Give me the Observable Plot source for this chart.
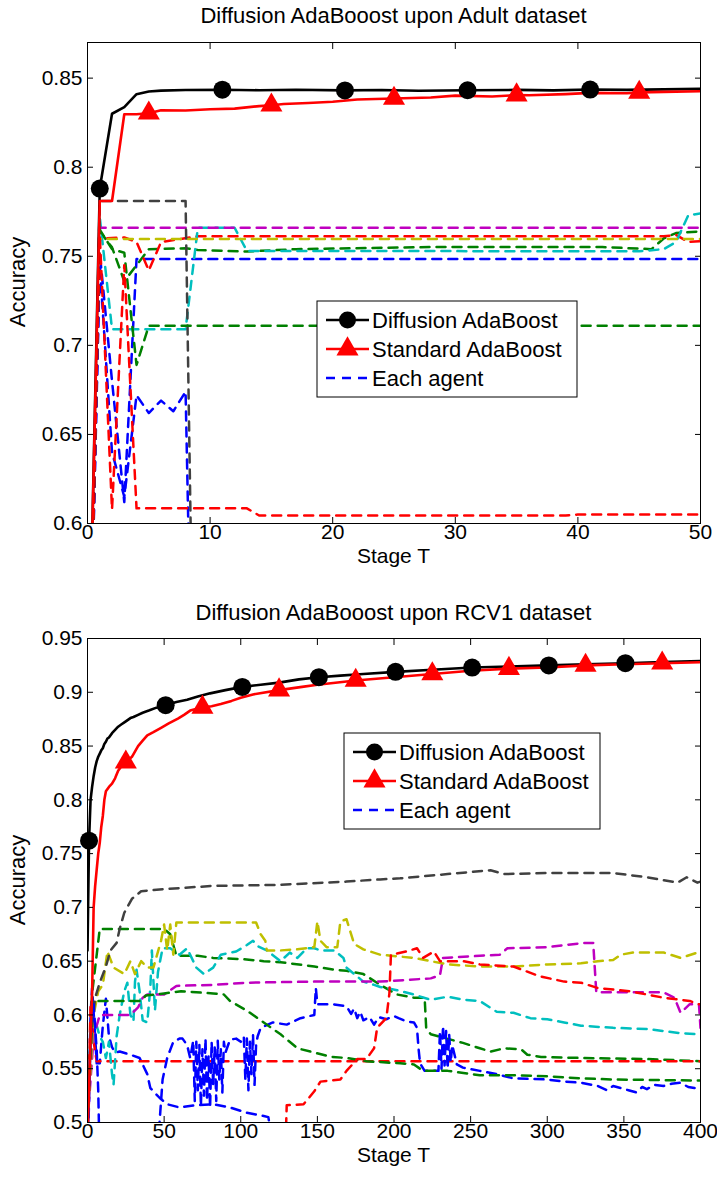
<!DOCTYPE html>
<html>
<head>
<meta charset="utf-8">
<script src="https://cdn.jsdelivr.net/npm/d3@7"></script>
<script src="https://cdn.jsdelivr.net/npm/@observablehq/plot@0.6"></script>
<style>
  body { margin: 0; background: #fff; }
  #fig { position: relative; width: 717px; height: 1178px; background: #fff; }
  #fig svg { position: absolute; left: 0; display: block; }
</style>
</head>
<body>
<div id="fig"></div>
<script>
// ---------- Shared ----------
const FONT = "'Liberation Sans', Arial, Helvetica, sans-serif";
// MATLAB line colour order, cycling over the ten agents
const agentColors = ["#0000ff", "#008000", "#ff0000", "#00bfbf", "#bf00bf",
                     "#bfbf00", "#404040", "#0000ff", "#008000", "#ff0000"];
const legendLabels = ["Diffusion AdaBoost", "Standard AdaBoost", "Each agent"];

// ---------- Adult dataset: [stage T, accuracy] ----------
const adultXTicks = [0, 10, 20, 30, 40, 50];
const adultYTicks = [0.6, 0.65, 0.7, 0.75, 0.8, 0.85];

const adultDiffusion = [[0,0.475],[1,0.788],[2,0.830],[3,0.8337],[4,0.841],[5,0.8425],[6,0.8430],[8,0.8433],
  [11,0.8435],[14,0.8432],[17,0.8435],[21,0.8431],[24,0.8433],[27,0.8429],[31,0.8432],[35,0.8434],
  [38,0.8431],[41,0.8436],[44,0.8434],[47,0.8437],[50,0.8440]];
const adultStandard = [[0,0.475],[1,0.781],[2,0.781],[3,0.8297],[4,0.8297],[5,0.8303],[6,0.8320],[8,0.8318],
  [10,0.8325],[12,0.8329],[14,0.8343],[15,0.8348],[16,0.8355],[18,0.8360],[20,0.8367],[22,0.8380],
  [25,0.8386],[28,0.8391],[30,0.8402],[33,0.8397],[35,0.8405],[36,0.8404],[39,0.8410],[41,0.8417],
  [44,0.8415],[45,0.8420],[47,0.8423],[50,0.8426]];
const adultDiffMarkT = [1, 11, 21, 31, 41];
const adultStdMarkT = [5, 15, 25, 35, 45];

const adultAgentBlue1 = [[0,0.45],[1,0.752],[2,0.680],[3,0.612],[4,0.7485],[50,0.7485]];
const adultAgentGreen1 = [[0,0.45],[1,0.764],[2,0.755],[3,0.736],[4,0.745],[5,0.754],[8,0.7545],[9,0.7535],
  [13,0.7527],[17,0.754],[28,0.7552],[42,0.7552],[46,0.754],[47,0.760],[48,0.763],[50,0.764]];
const adultAgentRed1 = [[0,0.45],[1,0.760],[3,0.7606],[4,0.758],[5,0.742],[6,0.758],[9,0.7612],[47,0.7612],
  [48,0.762],[49,0.758],[50,0.7585]];
const adultAgentCyan = [[0,0.45],[1,0.772],[2,0.709],[8,0.709],[9,0.766],[12,0.766],[13,0.753],[45,0.7528],
  [47,0.754],[48,0.758],[49,0.773],[50,0.774]];
const adultAgentMagenta = [[0,0.45],[1,0.766],[50,0.766]];
const adultAgentYellow = [[0,0.45],[1,0.7597],[50,0.7597]];
const adultAgentGray = [[0,0.45],[1,0.781],[8,0.781],[9,0.34],[50,0.34]];
const adultAgentBlue2 = [[0,0.45],[1,0.745],[2,0.640],[3,0.615],[4,0.672],[5,0.662],[6,0.669],[7,0.663],
  [8,0.674],[9,0.34],[50,0.34]];
const adultAgentGreen2 = [[0,0.45],[1,0.765],[2,0.754],[3,0.752],[4,0.689],[5,0.711],[50,0.711]];
const adultAgentRed2 = [[0,0.45],[1,0.762],[2,0.608],[3,0.745],[4,0.6085],[13,0.6085],[14,0.6045],
  [39,0.6045],[40,0.605],[50,0.605]];

// ---------- RCV1 dataset: [stage T, accuracy] ----------
const rcvXTicks = [0, 50, 100, 150, 200, 250, 300, 350, 400];
const rcvYTicks = [0.5, 0.55, 0.6, 0.65, 0.7, 0.75, 0.8, 0.85, 0.9, 0.95];

const rcvDiffusion = [[0,0.66],[1,0.762],[2,0.800],[3,0.812],[4,0.822],[5,0.830],[6,0.836],[7,0.840],
  [8,0.843],[9,0.846],[10,0.848],[11,0.852],[12,0.854],[13,0.857],[14,0.858],[16,0.862],[18,0.865],
  [20,0.868],[22,0.870],[25,0.873],[28,0.876],[30,0.877],[33,0.879],[36,0.881],[40,0.883],[45,0.8857],
  [51,0.888],[58,0.891],[65,0.893],[72,0.896],[80,0.899],[90,0.902],[101,0.905],[113,0.907],[125,0.909],
  [138,0.912],[151,0.914],[165,0.9155],[180,0.917],[201,0.919],[225,0.921],[251,0.923],[275,0.924],
  [301,0.925],[325,0.926],[351,0.927],[375,0.928],[400,0.929]];
const rcvStandard = [[0,0.49],[1,0.53],[2,0.58],[3,0.62],[4,0.70],[5,0.72],[6,0.735],[7,0.75],[8,0.76],
  [9,0.775],[10,0.785],[11,0.80],[12,0.808],[14,0.812],[16,0.815],[18,0.82],[20,0.827],[22,0.831],
  [25,0.835],[29,0.840],[33,0.850],[36,0.855],[39,0.860],[43,0.863],[48,0.867],[53,0.871],[59,0.8755],
  [63,0.879],[67,0.883],[75,0.886],[81,0.887],[87,0.889],[94,0.892],[100,0.895],[108,0.898],[125,0.902],
  [140,0.905],[150,0.907],[175,0.911],[200,0.914],[225,0.917],[250,0.920],[275,0.922],[300,0.923],
  [325,0.925],[350,0.926],[375,0.927],[400,0.928]];
const rcvDiffMarkT = [1, 51, 101, 151, 201, 251, 301, 351];
const rcvStdMarkT = [25, 75, 125, 175, 225, 275, 325, 375];

const rcvAgentBlue1 = [[0,0.47],[2,0.60],[3,0.625],[5,0.58],[6,0.555],[8,0.555],[10,0.59],[12,0.615],
  [14,0.58],[16,0.57],[18,0.565],[21,0.566],[28,0.563],[34,0.56],[39,0.545],[41,0.532],[47,0.523],
  [52,0.517],[60,0.514],[70,0.516],[82,0.517],[93,0.514],[104,0.509],[115,0.506],[118,0.505],
  [122,0.47],[400,0.47]];
const rcvAgentGreen1 = [[0,0.49],[3,0.62],[8,0.68],[50,0.68],[54,0.675],[58,0.655],[72,0.655],[82,0.653],
  [100,0.652],[115,0.65],[126,0.649],[148,0.645],[161,0.642],[169,0.641],[180,0.638],[191,0.628],
  [202,0.619],[213,0.616],[220,0.616],[221,0.588],[224,0.582],[245,0.574],[256,0.569],[263,0.566],
  [272,0.569],[283,0.568],[287,0.563],[296,0.561],[322,0.56],[365,0.559],[400,0.557]];
const rcvAgentRed1 = [[0,0.48],[2,0.61],[4,0.575],[6,0.557],[400,0.557]];
const rcvAgentCyan = [[0,0.49],[2,0.585],[4,0.575],[6,0.59],[8,0.58],[10,0.575],[12,0.56],[14,0.575],
  [16,0.545],[17,0.535],[19,0.58],[21,0.60],[24,0.622],[26,0.63],[28,0.60],[30,0.594],[31,0.631],
  [32,0.642],[34,0.622],[36,0.595],[39,0.593],[41,0.625],[42,0.66],[44,0.604],[46,0.64],[49,0.662],
  [54,0.662],[60,0.656],[65,0.662],[71,0.644],[76,0.638],[82,0.644],[87,0.656],[97,0.659],[104,0.665],
  [108,0.669],[111,0.664],[117,0.66],[126,0.65],[132,0.658],[137,0.653],[143,0.662],[148,0.662],
  [152,0.66],[161,0.66],[167,0.653],[169,0.644],[180,0.631],[187,0.628],[191,0.626],[202,0.623],
  [213,0.619],[224,0.614],[235,0.617],[246,0.614],[256,0.613],[267,0.603],[278,0.602],[289,0.597],
  [300,0.596],[311,0.593],[322,0.59],[343,0.588],[365,0.587],[387,0.583],[400,0.582]];
const rcvAgentMagenta = [[0,0.50],[4,0.58],[8,0.60],[28,0.60],[33,0.607],[36,0.616],[39,0.619],[50,0.619],
  [58,0.627],[82,0.628],[104,0.63],[148,0.631],[191,0.631],[224,0.634],[230,0.637],[232,0.653],
  [256,0.655],[269,0.656],[274,0.662],[300,0.663],[324,0.667],[330,0.667],[332,0.621],[339,0.621],
  [376,0.621],[383,0.616],[387,0.602],[393,0.61],[399,0.61],[400,0.588]];
const rcvAgentYellow = [[0,0.50],[4,0.60],[7,0.622],[10,0.628],[13,0.659],[17,0.644],[24,0.638],[28,0.65],
  [31,0.638],[35,0.65],[39,0.644],[43,0.644],[48,0.669],[50,0.684],[52,0.66],[54,0.684],[56,0.656],
  [58,0.686],[110,0.686],[113,0.675],[116,0.669],[117,0.66],[126,0.66],[137,0.661],[148,0.663],
  [150,0.687],[152,0.669],[156,0.663],[163,0.663],[165,0.687],[169,0.689],[174,0.666],[180,0.661],
  [191,0.656],[213,0.653],[224,0.65],[235,0.647],[256,0.645],[278,0.645],[300,0.647],[322,0.648],
  [333,0.65],[343,0.651],[348,0.656],[356,0.658],[376,0.658],[387,0.653],[398,0.658],[400,0.658]];
const rcvAgentGray = [[0,0.50],[3,0.59],[5,0.616],[8,0.63],[12,0.645],[15,0.66],[19,0.667],[21,0.68],
  [24,0.695],[29,0.708],[35,0.715],[50,0.717],[82,0.72],[126,0.721],[169,0.724],[191,0.726],[204,0.727],
  [235,0.731],[263,0.7345],[272,0.731],[300,0.732],[322,0.732],[343,0.732],[365,0.728],[385,0.723],
  [391,0.728],[398,0.723],[400,0.724]];
const rcvAgentBlue2 = [[0,0.46],[2,0.58],[4,0.61],[6,0.567],[7,0.53],[8,0.46],[46,0.46],[47,0.50],
  [49,0.54],[52,0.56],[56,0.575],[60,0.578],[62,0.578],[65,0.572],[67,0.56],[69,0.576],[70,0.52],
  [71,0.575],[72,0.53],[73,0.572],[74,0.515],[75,0.568],[76,0.525],[77,0.578],[78,0.52],[79,0.562],
  [80,0.514],[81,0.575],[82,0.535],[83,0.57],[84,0.52],[85,0.576],[86,0.54],[87,0.568],[88,0.528],
  [89,0.575],[90,0.565],[93,0.577],[97,0.578],[100,0.575],[102,0.58],[103,0.54],[104,0.578],[105,0.53],
  [106,0.575],[107,0.545],[108,0.582],[109,0.535],[110,0.572],[111,0.58],[113,0.588],[121,0.593],
  [130,0.591],[139,0.597],[148,0.60],[149,0.625],[150,0.61],[160,0.61],[169,0.608],[172,0.601],
  [174,0.606],[176,0.597],[178,0.603],[180,0.595],[184,0.598],[187,0.591],[190,0.598],[195,0.596],
  [200,0.599],[203,0.597],[208,0.594],[213,0.593],[215,0.588],[216,0.569],[217,0.555],[220,0.548],
  [229,0.548],[230,0.585],[231,0.55],[232,0.59],[233,0.553],[234,0.585],[235,0.55],[236,0.582],
  [237,0.556],[238,0.572],[241,0.554],[245,0.551],[256,0.548],[267,0.545],[278,0.541],[300,0.54],
  [311,0.538],[322,0.537],[333,0.534],[339,0.53],[343,0.534],[348,0.532],[353,0.53],[358,0.528],
  [362,0.533],[365,0.531],[370,0.535],[376,0.534],[381,0.536],[387,0.537],[392,0.533],[396,0.532],
  [400,0.534]];
const rcvAgentGreen2 = [[0,0.50],[3,0.613],[35,0.613],[38,0.618],[50,0.62],[61,0.622],[82,0.62],[89,0.619],
  [93,0.613],[104,0.604],[115,0.593],[126,0.582],[137,0.569],[148,0.565],[159,0.561],[169,0.56],
  [182,0.557],[204,0.555],[213,0.554],[219,0.548],[235,0.548],[256,0.544],[278,0.544],[300,0.543],
  [322,0.541],[343,0.54],[400,0.539]];
const rcvAgentRed2 = [[0,0.50],[1,0.47],[129,0.47],[130,0.516],[141,0.517],[148,0.529],[152,0.538],
  [165,0.54],[169,0.548],[176,0.559],[182,0.559],[187,0.569],[189,0.588],[195,0.597],[197,0.62],
  [198,0.656],[208,0.659],[215,0.662],[219,0.653],[226,0.659],[230,0.65],[245,0.65],[256,0.647],
  [278,0.645],[295,0.636],[311,0.631],[322,0.63],[333,0.625],[354,0.622],[376,0.616],[387,0.614],
  [393,0.613],[398,0.61],[400,0.61]];

// ---------- Drawing ----------
const fig = d3.select("#fig");
const tx = d => d[0], ty = d => d[1];
const pointAt = (series, t) => series.find(d => d[0] === t);

function addText(svg, x, y, str, {size = 22, anchor = "middle", rotate = 0} = {}) {
  const t = svg.append("text")
    .attr("x", x).attr("y", y)
    .attr("font-family", FONT).attr("font-size", size)
    .attr("text-anchor", anchor).attr("fill", "#000")
    .text(str);
  if (rotate) t.attr("transform", `rotate(${rotate},${x},${y})`);
}

function addLegend(svg, x, y, w) {
  const g = svg.append("g");
  g.append("rect").attr("x", x).attr("y", y).attr("width", w).attr("height", 96)
    .attr("fill", "#fff").attr("stroke", "#000").attr("stroke-width", 1);
  const rows = [19, 48, 77];
  const x1 = x + 9, x2 = x + 52, xm = (x1 + x2) / 2;
  // Diffusion AdaBoost
  g.append("line").attr("x1", x1).attr("x2", x2).attr("y1", y + rows[0]).attr("y2", y + rows[0])
    .attr("stroke", "#000").attr("stroke-width", 2.6);
  g.append("circle").attr("cx", xm).attr("cy", y + rows[0]).attr("r", 8.5).attr("fill", "#000");
  // Standard AdaBoost
  g.append("line").attr("x1", x1).attr("x2", x2).attr("y1", y + rows[1]).attr("y2", y + rows[1])
    .attr("stroke", "#f00").attr("stroke-width", 2.6);
  g.append("path").attr("d", d3.symbol(d3.symbolTriangle, Math.PI * 8.2 * 8.2)())
    .attr("transform", `translate(${xm},${y + rows[1]})`).attr("fill", "#f00");
  // Each agent
  g.append("line").attr("x1", x1).attr("x2", x2).attr("y1", y + rows[2]).attr("y2", y + rows[2])
    .attr("stroke", agentColors[0]).attr("stroke-width", 2.5).attr("stroke-dasharray", "9,7");
  legendLabels.forEach((s, i) => addText(g, x + 55, y + rows[i] + 8, s, {size: 22, anchor: "start"}));
}

function panel(cfg) {
  const chart = Plot.plot({
    width: 717,
    height: cfg.height,
    marginTop: cfg.marginTop,
    marginBottom: cfg.marginBottom,
    marginLeft: 87,
    marginRight: 17,
    style: {fontFamily: FONT, fontSize: "21px", color: "#000", background: "#fff", overflow: "visible"},
    x: {domain: cfg.xDomain},
    y: {domain: cfg.yDomain},
    marks: [
      ...cfg.agents.map((pts, i) => Plot.line(pts, {
        x: tx, y: ty, stroke: agentColors[i], strokeWidth: 2.5, strokeDasharray: "9,7", clip: true
      })),
      Plot.line(cfg.diffusion, {x: tx, y: ty, stroke: "#000", strokeWidth: 2.6, clip: true}),
      Plot.line(cfg.standard, {x: tx, y: ty, stroke: "#f00", strokeWidth: 2.6, clip: true}),
      Plot.dot(cfg.diffMarkT.map(t => pointAt(cfg.diffusion, t)), {x: tx, y: ty, r: 9, fill: "#000", stroke: null}),
      Plot.dot(cfg.stdMarkT.map(t => pointAt(cfg.standard, t)), {x: tx, y: ty, r: 8.2, symbol: "triangle", fill: "#f00", stroke: null}),
      Plot.frame({stroke: "#000", strokeWidth: 1}),
      Plot.axisX(cfg.xTicks, {anchor: "bottom", tickSize: 0, tickPadding: 1, label: null}),
      Plot.axisX(cfg.xTicks, {anchor: "bottom", tickSize: -6, tickFormat: () => "", label: null}),
      Plot.axisX(cfg.xTicks, {anchor: "top", tickSize: -6, tickFormat: () => "", label: null}),
      Plot.axisY(cfg.yTicks, {anchor: "left", tickSize: 0, tickPadding: 5, tickFormat: d => String(d), label: null}),
      Plot.axisY(cfg.yTicks, {anchor: "left", tickSize: -6, tickFormat: () => "", label: null}),
      Plot.axisY(cfg.yTicks, {anchor: "right", tickSize: -6, tickFormat: () => "", label: null})
    ]
  });
  chart.style.top = cfg.top + "px";
  fig.node().appendChild(chart);
  const svg = d3.select(chart);
  addLegend(svg, cfg.legendX, cfg.legendY, cfg.legendW);
  addText(svg, 393.5, cfg.titleY, cfg.title);
  addText(svg, 393.5, cfg.xLabelY, "Stage T", {size: 21});
  addText(svg, 25, cfg.yLabelY, "Accuracy", {rotate: -90});
}

panel({
  top: 0, height: 590, marginTop: 42, marginBottom: 67,
  xDomain: [0, 50], yDomain: [0.6, 0.87], xTicks: adultXTicks, yTicks: adultYTicks,
  agents: [adultAgentBlue1, adultAgentGreen1, adultAgentRed1, adultAgentCyan, adultAgentMagenta,
           adultAgentYellow, adultAgentGray, adultAgentBlue2, adultAgentGreen2, adultAgentRed2],
  diffusion: adultDiffusion, standard: adultStandard,
  diffMarkT: adultDiffMarkT, stdMarkT: adultStdMarkT,
  legendX: 317, legendY: 301, legendW: 260,
  title: "Diffusion AdaBooost upon Adult dataset", titleY: 23, xLabelY: 563, yLabelY: 282
});

panel({
  top: 590, height: 588, marginTop: 48, marginBottom: 56,
  xDomain: [0, 400], yDomain: [0.5, 0.95], xTicks: rcvXTicks, yTicks: rcvYTicks,
  agents: [rcvAgentBlue1, rcvAgentGreen1, rcvAgentRed1, rcvAgentCyan, rcvAgentMagenta,
           rcvAgentYellow, rcvAgentGray, rcvAgentBlue2, rcvAgentGreen2, rcvAgentRed2],
  diffusion: rcvDiffusion, standard: rcvStandard,
  diffMarkT: rcvDiffMarkT, stdMarkT: rcvStdMarkT,
  legendX: 344, legendY: 143, legendW: 256,
  title: "Diffusion AdaBooost upon RCV1 dataset", titleY: 30, xLabelY: 572, yLabelY: 290
});
</script>
</body>
</html>
